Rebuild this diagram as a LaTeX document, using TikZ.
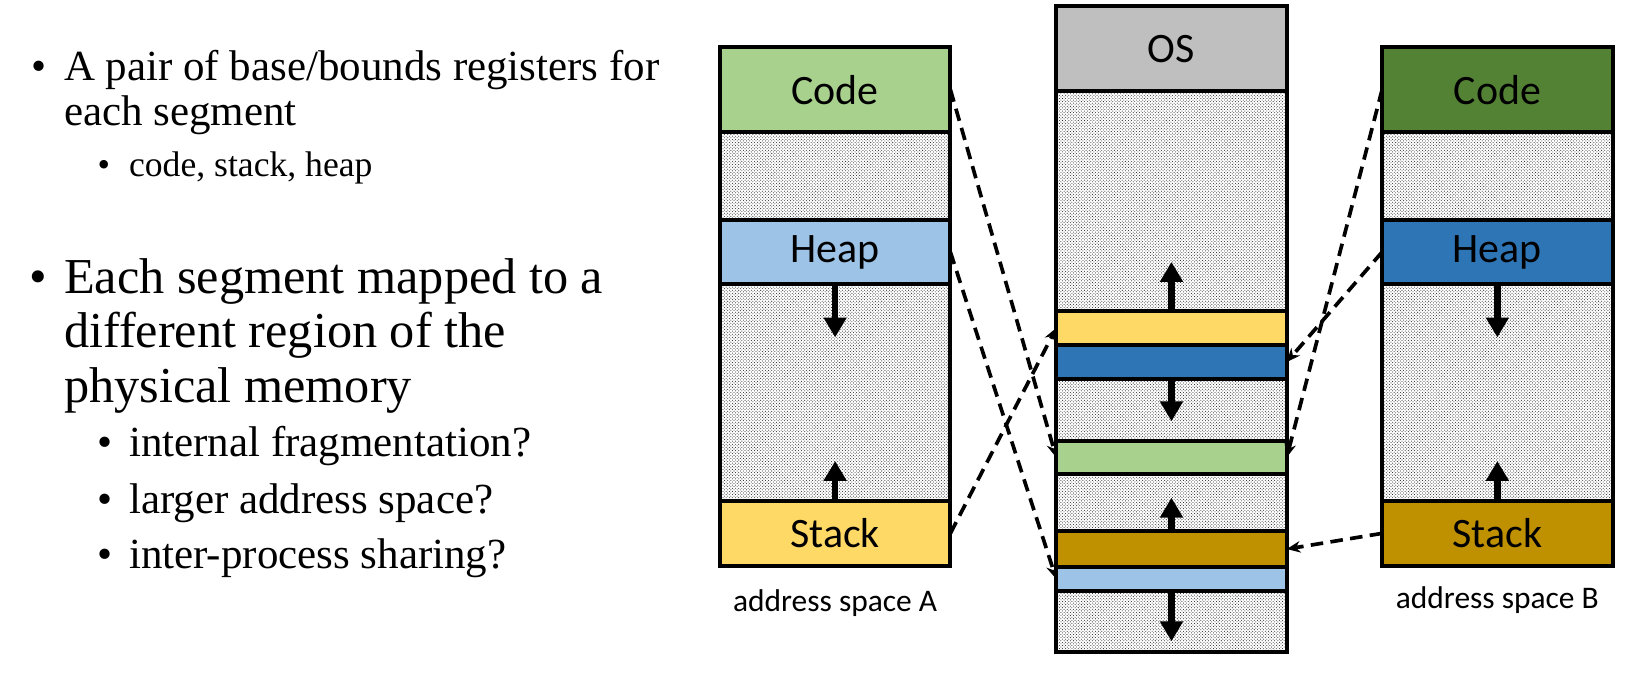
\documentclass[tikz,border=0pt]{standalone}
\usepackage{fontspec}
\setmainfont{Liberation Serif}
\newfontfamily\calibri{Carlito}
\usetikzlibrary{arrows.meta,patterns}

\definecolor{codeAcol}{HTML}{A9D18E}
\definecolor{heapAcol}{HTML}{9DC3E6}
\definecolor{stackAcol}{HTML}{FFD966}
\definecolor{codeBcol}{HTML}{548235}
\definecolor{heapBcol}{HTML}{2E75B6}
\definecolor{stackBcol}{HTML}{BF9000}
\definecolor{oscol}{HTML}{BFBFBF}

\tikzset{
  seg/.style={draw, line width=4pt, minimum width=220, inner sep=0, outer sep=0,
    font=\calibri\fontsize{40}{48}\selectfont},
  gap/.style={seg, pattern=crosshatch dots, pattern color=black!85},
  growarrow/.style={line width=6pt, -{Triangle[width=21pt,length=19pt]}},
  map/.style={line width=3.5pt, dash pattern=on 12pt off 7pt, -{Stealth[length=13pt,width=11pt]}},
  lbl/.style={font=\calibri\fontsize{30}{36}\selectfont},
  txt/.style={anchor=base west, inner sep=0},
  bul/.style={anchor=base, inner sep=0}
}

\begin{document}
\begin{tikzpicture}[x=1pt, y=-1pt]
    \useasboundingbox (0,0) rectangle (1568,649);

    % bullet text
    \node[bul, font=\fontsize{41}{43}\selectfont] (bA) at (37,77) {\textbullet};
    \node[txt, font=\fontsize{41}{43}\selectfont] (tA1) at (61,77) {A pair of base/bounds registers for};
    \node[txt, font=\fontsize{41}{43}\selectfont] (tA2) at (61,120) {each segment};
    \node[bul, font=\fontsize{34}{40}\selectfont] (bA1) at (99,168) {\textbullet};
    \node[txt, font=\fontsize{34}{40}\selectfont] (tA3) at (123,168) {code, stack, heap};
    \node[bul, font=\fontsize{48}{52}\selectfont] (bB) at (37,280) {\textbullet};
    \node[txt, font=\fontsize{48}{52}\selectfont] (tB1) at (61,280) {Each segment mapped to a};
    \node[txt, font=\fontsize{48}{52}\selectfont] (tB2) at (61,332) {different region of the};
    \node[txt, font=\fontsize{48}{52}\selectfont] (tB3) at (61,384) {physical memory};
    \node[bul, font=\fontsize{41}{43}\selectfont] (bB1) at (100,436) {\textbullet};
    \node[txt, font=\fontsize{41}{43}\selectfont] (tB4) at (123,436) {internal fragmentation?};
    \node[bul, font=\fontsize{41}{43}\selectfont] (bB2) at (100,490) {\textbullet};
    \node[txt, font=\fontsize{41}{43}\selectfont] (tB5) at (123,490) {larger address space?};
    \node[bul, font=\fontsize{41}{43}\selectfont] (bB3) at (100,543) {\textbullet};
    \node[txt, font=\fontsize{41}{43}\selectfont] (tB6) at (123,543) {inter-process sharing?};

    % address space A
    \node[seg, fill=codeAcol, minimum height=81] (codeA) at (797,85.5) {Code};
    \node[gap, minimum height=84] (gapA1) at (797,168) {};
    \node[seg, fill=heapAcol, minimum height=61] (heapA) at (797,240.5) {Heap};
    \node[gap, minimum height=207] (gapA2) at (797,374.5) {};
    \node[seg, fill=stackAcol, minimum height=62] (stackA) at (797,509) {Stack};
    \node[lbl] (lblA) at (797,576) {address space A};
    \draw[growarrow] (heapA.south) -- ++(0,51);
    \draw[growarrow] (stackA.north) -- ++(0,-38);

    % physical memory
    \node[seg, fill=oscol, minimum height=81] (os) at (1118,46.5) {OS};
    \node[gap, minimum height=210] (gapP1) at (1118,192) {};
    \node[seg, fill=stackAcol, minimum height=32] (stackAP) at (1118,313) {};
    \node[seg, fill=heapBcol, minimum height=33] (heapBP) at (1118,345.5) {};
    \node[gap, minimum height=59] (gapP2) at (1118,391.5) {};
    \node[seg, fill=codeAcol, minimum height=31] (codeP) at (1118,436.5) {};
    \node[gap, minimum height=55] (gapP3) at (1118,479.5) {};
    \node[seg, fill=stackBcol, minimum height=34] (stackBP) at (1118,524) {};
    \node[seg, fill=heapAcol, minimum height=23] (heapAP) at (1118,552.5) {};
    \node[gap, minimum height=58] (gapP4) at (1118,593) {};
    \draw[growarrow] (stackAP.north) -- ++(0,-47);
    \draw[growarrow] (heapBP.south) -- ++(0,40);
    \draw[growarrow] (stackBP.north) -- ++(0,-32);
    \draw[growarrow] (heapAP.south) -- ++(0,48);

    % address space B
    \node[seg, fill=codeBcol, minimum height=81] (codeB) at (1429,85.5) {Code};
    \node[gap, minimum height=84] (gapB1) at (1429,168) {};
    \node[seg, fill=heapBcol, minimum height=61] (heapB) at (1429,240.5) {Heap};
    \node[gap, minimum height=207] (gapB2) at (1429,374.5) {};
    \node[seg, fill=stackBcol, minimum height=62] (stackB) at (1429,509) {Stack};
    \node[lbl] (lblB) at (1429,573) {address space B};
    \draw[growarrow] (heapB.south) -- ++(0,51);
    \draw[growarrow] (stackB.north) -- ++(0,-38);

    % mappings
    \draw[map] (codeA.east) -- (codeP.west);
    \draw[map] (heapA.east) -- (heapAP.west);
    \draw[map] (stackA.east) -- (stackAP.west);
    \draw[map] (codeB.west) -- (codeP.east);
    \draw[map] (heapB.west) -- (heapBP.east);
    \draw[map] (stackB.west) -- (stackBP.east);
\end{tikzpicture}
\end{document}
